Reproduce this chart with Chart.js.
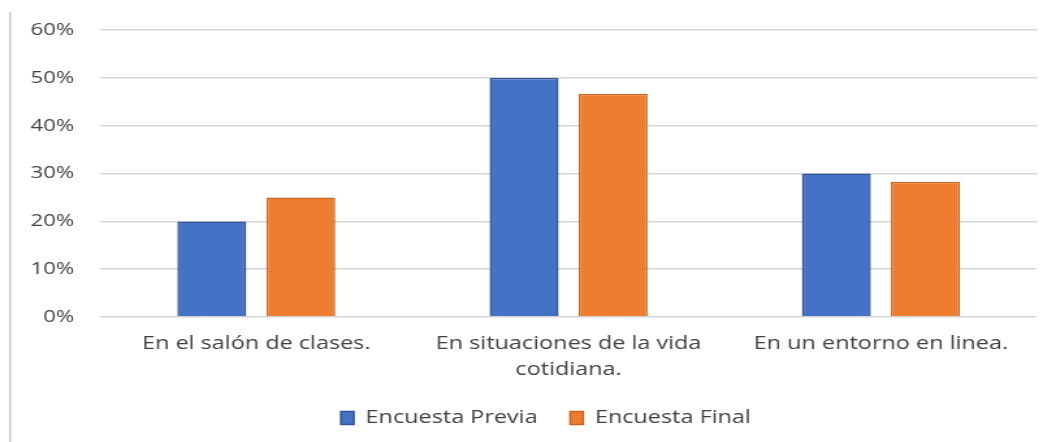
<!DOCTYPE html>
<html>
<head>
<meta charset="utf-8">
<script src="https://cdn.jsdelivr.net/npm/chart.js@4/dist/chart.umd.min.js"></script>
<style>
  html, body { margin: 0; padding: 0; background: #fff; }
  /* the original picture is stretched sideways, so the canvas is too */
  #chart { display: block; width: 1056px; height: 442px; }
</style>
</head>
<body>
<canvas id="chart" width="812" height="442" style="width:1056px;height:442px"></canvas>
<script>
// categories (second one wraps on two lines)
const categories = [
    "En el salón de clases.",
    ["En situaciones de la vida", "cotidiana."],
    "En un entorno en linea."
];
// values in percent
const encuestaPrevia = [20, 50, 30];
const encuestaFinal = [25, 46.7, 28.3];
const yTicks = [0, 10, 20, 30, 40, 50, 60];

// grey frame line at the left edge of the picture
const leftLine = {
    id: 'leftLine',
    beforeDraw(chart) {
        const ctx = chart.ctx;
        ctx.save();
        ctx.strokeStyle = '#c4c4c4';
        ctx.lineWidth = 1.5;
        ctx.beginPath();
        ctx.moveTo(7.7, 12);
        ctx.lineTo(7.7, chart.height);
        ctx.stroke();
        ctx.restore();
    }
};

// legend sits a bit right of the canvas centre in the original
const legendShift = {
    id: 'legendShift',
    afterLayout(chart) {
        chart.legend.left += 21;
        chart.legend.right += 21;
    }
};

const ctx = document.getElementById("chart");

new Chart(ctx, {
    type: 'bar',
    data: {
        labels: categories,
        datasets: [
            {
                label: 'Encuesta Previa',
                backgroundColor: '#4472C4',
                borderColor: '#2F5597',
                borderWidth: 1.5,
                data: encuestaPrevia
            },
            {
                label: 'Encuesta Final',
                backgroundColor: '#ED7D31',
                borderColor: '#C9651F',
                borderWidth: 1.5,
                data: encuestaFinal
            }
        ]
    },
    options: {
        responsive: false,
        animation: false,
        devicePixelRatio: 1,
        categoryPercentage: 0.57,
        barPercentage: 0.775,
        layout: {
            padding: { top: 27, right: 14.6, bottom: 5, left: 0 }
        },
        scales: {
            x: {
                grid: { display: false, drawTicks: false },
                border: { display: false },
                ticks: {
                    color: '#404040',
                    padding: 14,
                    maxRotation: 0,
                    autoSkip: false,
                    font: { family: 'Open Sans', size: 18, lineHeight: 1.45 }
                },
                afterFit: (scale) => { scale.height = 67; }
            },
            y: {
                min: 0,
                max: 60,
                afterBuildTicks: (scale) => {
                    scale.ticks = yTicks.map(v => ({ value: v }));
                },
                grid: { color: '#d6d6d6', lineWidth: 1.5, drawTicks: false },
                border: { display: false },
                ticks: {
                    color: '#404040',
                    padding: 20,
                    font: { family: 'Open Sans', size: 17 },
                    callback: (v) => v + '%'
                },
                afterFit: (scale) => { scale.width = 77; }
            }
        },
        plugins: {
            legend: {
                position: 'bottom',
                labels: {
                    color: '#404040',
                    boxWidth: 10,
                    boxHeight: 13,
                    padding: 25,
                    font: { family: 'Open Sans', size: 18 }
                }
            },
            tooltip: { enabled: false }
        }
    },
    plugins: [leftLine, legendShift]
});
</script>
</body>
</html>
